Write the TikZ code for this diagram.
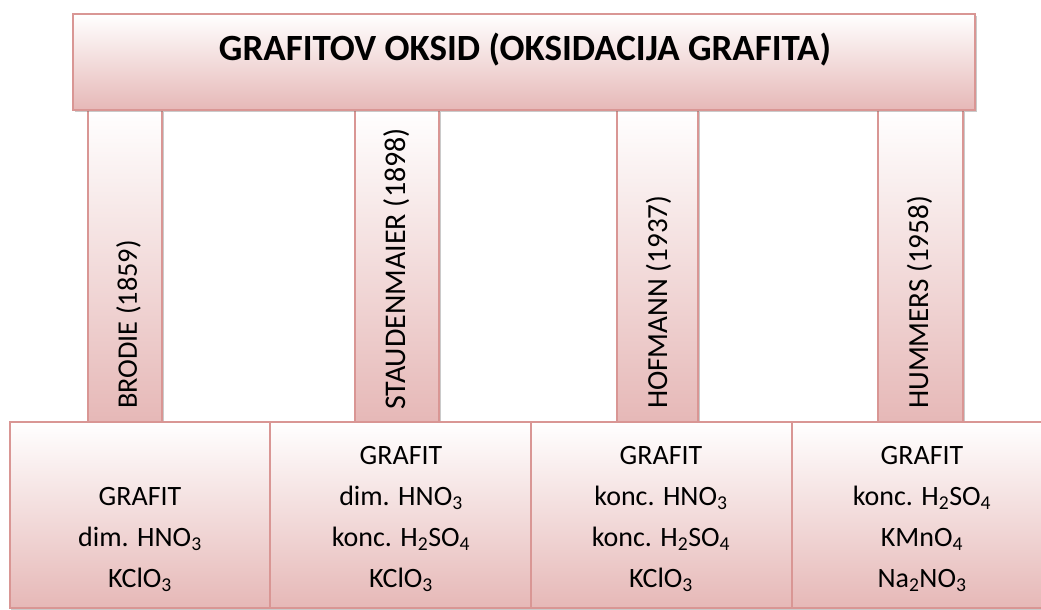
\documentclass[tikz,border=0pt]{standalone}
\usepackage{fontspec}
\setmainfont{Carlito}
\usetikzlibrary{shadows}
\definecolor{bordpink}{RGB}{217,150,148}
\definecolor{fillpink}{RGB}{230,184,183}
\tikzset{
  pinkbox/.style={draw=bordpink, line width=2pt, top color=white, bottom color=fillpink,
    inner sep=0pt, drop shadow={shadow xshift=1.5pt, shadow yshift=-2pt, opacity=0.35, fill=black!60}},
  pillarbox/.style={pinkbox, minimum width=#1, minimum height=312pt},
  titletext/.style={font=\fontsize{37}{44}\selectfont\bfseries, inner sep=0pt},
  pillartext/.style={font=\fontsize{#1}{34}\selectfont, inner sep=0pt, rotate=90, anchor=west},
  celltext/.style={font=\fontsize{28}{41}\selectfont, inner sep=0pt, align=center, anchor=south}
}
\begin{document}
\begin{tikzpicture}[x=1pt, y=-1pt]
\useasboundingbox (0,0) rectangle (1041,610);
\clip (0,0) rectangle (1041,610);
% pillars
\node[pillarbox=74pt] (p1) at (125,266) {};
\node[pillarbox=84pt] (p2) at (397,266) {};
\node[pillarbox=81pt] (p3) at (657.5,266) {};
\node[pillarbox=85pt] (p4) at (920.5,266) {};
% top box
\node[pinkbox, minimum width=902pt, minimum height=96pt] (top) at (524,62) {};
\node[titletext] (title) at (525,50) {GRAFITOV OKSID (OKSIDACIJA GRAFITA)};
% pillar labels
\node[pillartext=28.3] (l1) at (128.5,409) {BRODIE (1859)};
\node[pillartext=30] (l2) at (396.5,410) {STAUDENMAIER (1898)};
\node[pillartext=29.1] (l3) at (658.5,409) {HOFMANN (1937)};
\node[pillartext=29.1] (l4) at (919.5,409) {HUMMERS (1958)};
% bottom cells
\node[pinkbox, minimum width=261pt, minimum height=186pt] (c1) at (140,515) {};
\node[pinkbox, minimum width=261pt, minimum height=186pt] (c2) at (400.5,515) {};
\node[pinkbox, minimum width=261pt, minimum height=186pt] (c3) at (661.5,515) {};
\node[pinkbox, minimum width=261pt, minimum height=186pt] (c4) at (922.5,515) {};
\node[celltext] (x1) at (140,592) {GRAFIT\\dim. HNO\textsubscript{3}\\KClO\textsubscript{3}};
\node[celltext] (x2) at (401,592) {GRAFIT\\dim. HNO\textsubscript{3}\\konc. H\textsubscript{2}SO\textsubscript{4}\\KClO\textsubscript{3}};
\node[celltext] (x3) at (661,592) {GRAFIT\\konc. HNO\textsubscript{3}\\konc. H\textsubscript{2}SO\textsubscript{4}\\KClO\textsubscript{3}};
\node[celltext] (x4) at (922,592) {GRAFIT\\konc. H\textsubscript{2}SO\textsubscript{4}\\KMnO\textsubscript{4}\\Na\textsubscript{2}NO\textsubscript{3}};
\end{tikzpicture}
\end{document}
